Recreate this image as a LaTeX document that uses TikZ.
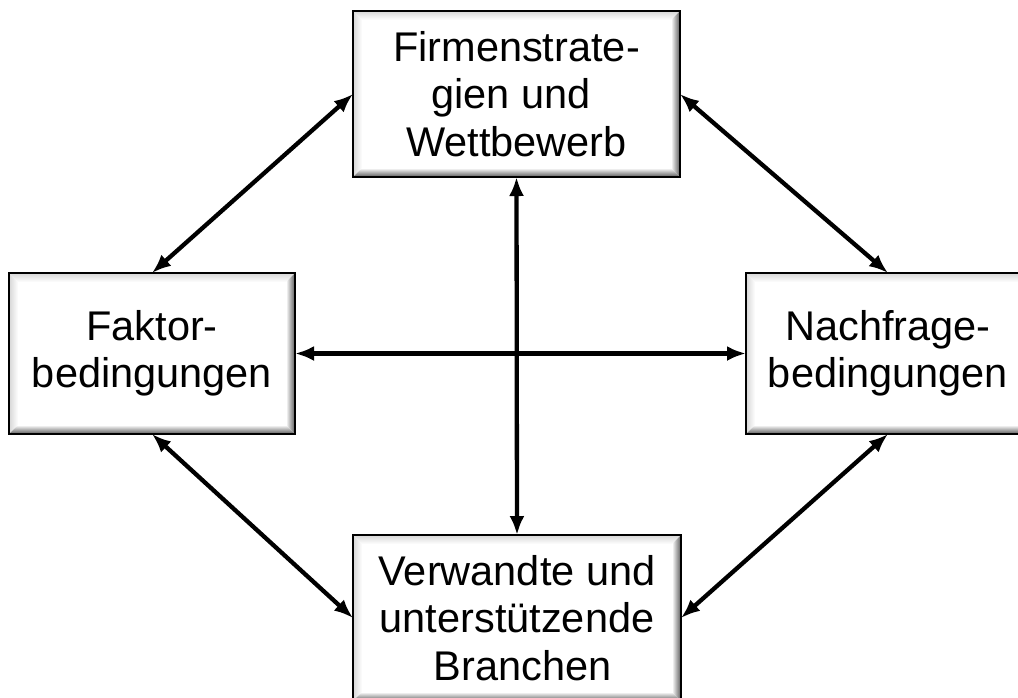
\documentclass[tikz,border=0pt]{standalone}
\usepackage{fontspec}
\setmainfont{Liberation Sans}
\usetikzlibrary{arrows.meta,calc}

\tikzset{
  factor/.style={rectangle, fill=white, inner sep=0pt, outer sep=0pt,
    align=center, font=\fontsize{41.5}{47.5}\selectfont},
  frameline/.style={draw=black, line width=2.5pt},
  link/.style={line width=4.3pt,
    {Latex[length=19pt,width=15pt]}-{Latex[length=19pt,width=15pt]}},
}

% bevelled edge inside a box: light on top/left, dark on bottom/right
\newcommand\bevelframe[1]{%
  \shade[top color=black!16, bottom color=white]
    (#1.north west) -- (#1.north east) -- ($(#1.north east)+(-9,9)$) -- ($(#1.north west)+(9,9)$) -- cycle;
  \shade[left color=black!16, right color=white]
    (#1.north west) -- (#1.south west) -- ($(#1.south west)+(9,-9)$) -- ($(#1.north west)+(9,9)$) -- cycle;
  \shade[top color=white, bottom color=black!65]
    (#1.south west) -- (#1.south east) -- ($(#1.south east)+(-9,-9)$) -- ($(#1.south west)+(9,-9)$) -- cycle;
  \shade[left color=white, right color=black!65]
    (#1.north east) -- (#1.south east) -- ($(#1.south east)+(-9,-9)$) -- ($(#1.north east)+(-9,9)$) -- cycle;
  \draw[frameline] (#1.north west) rectangle (#1.south east);
}

\begin{document}
\begin{tikzpicture}[x=1pt, y=-1pt]
  \useasboundingbox (0,0) rectangle (1018,697);
  \clip (0,0) rectangle (1018,697);

  % the four factor boxes
  \node[factor, minimum width=327pt, minimum height=166pt] (firm) at (516.5,94)
    {Firmenstrate-\\gien und\kern0.28em\\Wettbewerb};
  \node[factor, minimum width=286pt, minimum height=161pt] (fak) at (152,353.5)
    {Faktor-\\bedingungen};
  \node[factor, minimum width=284pt, minimum height=161pt] (nach) at (888,353.5)
    {Nachfrage-\\bedingungen};
  \node[factor, minimum width=328pt, minimum height=166pt] (bran) at (517,618)
    {Verwandte und\\unterstützende\\\kern0.28em Branchen};

  \bevelframe{firm}
  \bevelframe{fak}
  \bevelframe{nach}
  \bevelframe{bran}

  % mutual influences
  \draw[link] (firm.west) -- (fak.north);
  \draw[link] (firm.east) -- (nach.north);
  \draw[link] (fak.south) -- (bran.west);
  \draw[link] (nach.south) -- (bran.east);
  \draw[link] (firm.south) -- (bran.north);
  \draw[link] (fak.east) -- (nach.west);
\end{tikzpicture}
\end{document}
